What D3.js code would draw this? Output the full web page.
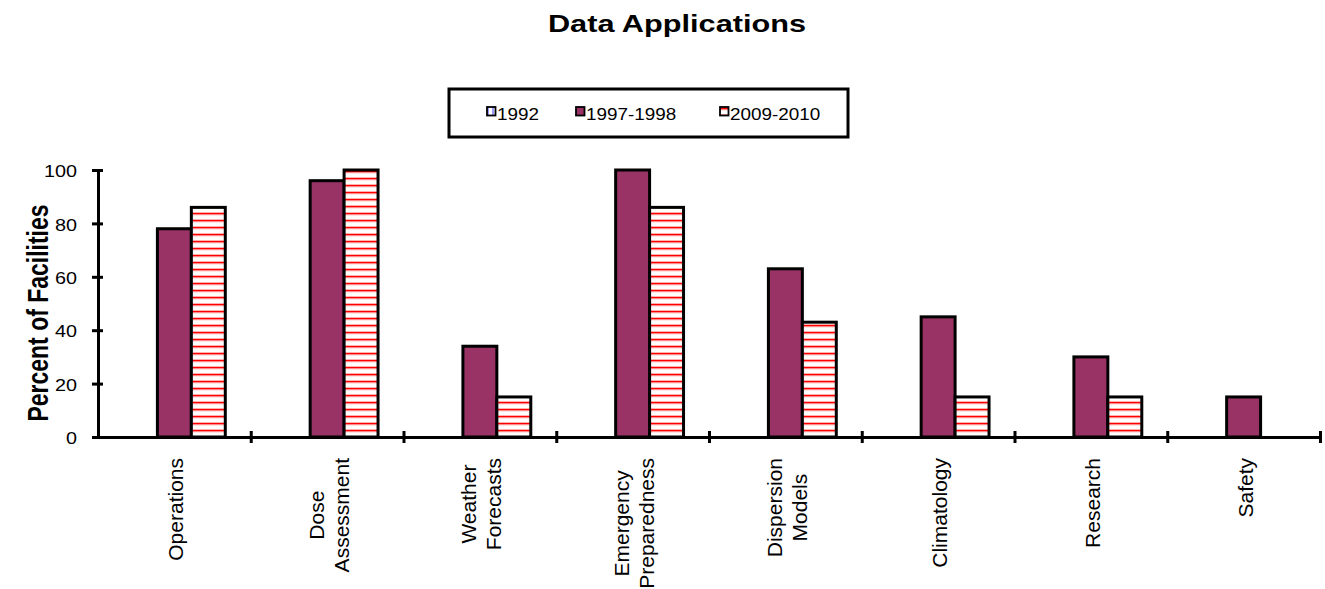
<!DOCTYPE html>
<html>
<head>
<meta charset="utf-8">
<script src="https://cdn.jsdelivr.net/npm/d3@7/dist/d3.min.js"></script>
<style>
  html, body { margin: 0; padding: 0; background: #fff; }
  svg { display: block; font-family: Arial, "Liberation Sans", sans-serif; }
</style>
</head>
<body>
<svg id="chart" width="1325" height="589"></svg>
<script>
// Survey categories (multi-line labels split on "\n")
const categories = [
  "Operations", "Dose\nAssessment", "Weather\nForecasts", "Emergency\nPreparedness",
  "Dispersion\nModels", "Climatology", "Research", "Safety"
];
const seriesNames = ["1992", "1997-1998", "2009-2010"];
const values1992 = [0, 0, 0, 0, 0, 0, 0, 0];
const values1997 = [78, 96, 34, 100, 63, 45, 30, 15];
const values2009 = [86, 100, 15, 86, 43, 15, 15, 0];
const yTicks = [0, 20, 40, 60, 80, 100];

const seriesValues = [values1992, values1997, values2009];

const svg = d3.select("#chart");
const plotLeft = 98, plotRight = 1320, plotTop = 170, plotBottom = 437;

// Fill patterns
const defs = svg.append("defs");
const pStripe = defs.append("pattern").attr("id", "hstripe")
  .attr("patternUnits", "userSpaceOnUse").attr("width", 8).attr("height", 7);
pStripe.append("rect").attr("width", 8).attr("height", 7).attr("fill", "#fff");
pStripe.append("rect").attr("y", 2).attr("width", 8).attr("height", 1).attr("fill", "#ffb0b0");
pStripe.append("rect").attr("y", 3).attr("width", 8).attr("height", 1.6).attr("fill", "#ff0000");
pStripe.append("rect").attr("y", 4.6).attr("width", 8).attr("height", 0.8).attr("fill", "#ffc0c0");

const pVert = defs.append("pattern").attr("id", "vstripe")
  .attr("patternUnits", "userSpaceOnUse").attr("width", 5).attr("height", 5);
pVert.append("rect").attr("width", 5).attr("height", 5).attr("fill", "#fff");
pVert.append("rect").attr("x", 2).attr("width", 2).attr("height", 5).attr("fill", "#9999ff");

const fills = ["url(#vstripe)", "#993366", "url(#hstripe)"];

// Scales
const x0 = d3.scaleBand().domain(d3.range(categories.length)).range([plotLeft, plotRight]).padding(0);
const bw = x0.bandwidth();
const x1 = d3.scaleBand().domain(d3.range(seriesNames.length)).range([bw / 6, bw * 5 / 6]).padding(0);
const y = d3.scaleLinear().domain([0, 100]).range([plotBottom, plotTop]);
const xEdge = d3.scaleLinear().domain([0, categories.length]).range([plotLeft, plotRight]);

// Title
svg.append("g").attr("transform", "translate(677,32) scale(1.28,1)")
  .append("text").attr("text-anchor", "middle")
  .attr("font-size", 24).attr("font-weight", "bold").attr("fill", "#000")
  .text("Data Applications");

// Y axis title
svg.append("g").attr("transform", "translate(48,313) rotate(-90) scale(1,1.25)")
  .append("text").attr("text-anchor", "middle")
  .attr("font-size", 23).attr("font-weight", "bold").attr("fill", "#000")
  .text("Percent of Facilities");

// Bars
const groups = svg.append("g").selectAll("g")
  .data(categories.map((c, i) => i))
  .join("g")
  .attr("transform", i => `translate(${x0(i)},0)`);

groups.selectAll("rect")
  .data(i => seriesValues.map((vals, s) => ({ s, v: vals[i] })).filter(d => d.v > 0))
  .join("rect")
  .attr("x", d => x1(d.s))
  .attr("width", x1.bandwidth())
  .attr("y", d => y(d.v))
  .attr("height", d => y(0) - y(d.v))
  .attr("fill", d => fills[d.s])
  .attr("stroke", "#000")
  .attr("stroke-width", 3);

// Y axis
const yAxis = svg.append("g").attr("transform", `translate(${plotLeft},0)`)
  .call(d3.axisLeft(y).tickValues(yTicks).tickSize(6).tickSizeOuter(0));
yAxis.select(".domain").attr("stroke", "#000").attr("stroke-width", 3);
yAxis.selectAll(".tick line").attr("x1", -6).attr("x2", 5).attr("stroke-width", 3);
yAxis.selectAll(".tick text")
  .attr("x", 0).attr("dy", "0.4em")
  .attr("transform", "translate(-21,0) scale(1.2,1)")
  .attr("font-size", 16.5).attr("fill", "#000")
  .attr("font-family", "Arial, 'Liberation Sans', sans-serif");

// X axis with ticks at category boundaries
const xAxis = svg.append("g").attr("transform", `translate(0,${plotBottom})`)
  .call(d3.axisBottom(xEdge).tickValues(d3.range(1, categories.length + 1))
    .tickFormat("").tickSize(6).tickSizeOuter(0));
xAxis.select(".domain").attr("stroke", "#000").attr("stroke-width", 3);
xAxis.selectAll(".tick line").attr("y1", -6).attr("y2", 6).attr("stroke-width", 3);

// Category labels, rotated, lines centered, block starting just below the axis
const labelTop = 458, lineGap = 25, labelSize = 21;
categories.forEach((c, i) => {
  const lines = c.split("\n");
  const cx = x0(i) + bw / 2 + 1.5;
  const g = svg.append("g");
  const texts = lines.map(line => g.append("text")
    .attr("font-size", labelSize).attr("fill", "#000")
    .attr("text-anchor", "middle").text(line));
  const maxLen = d3.max(texts, t => t.node().getComputedTextLength());
  const yc = labelTop + maxLen / 2;
  texts.forEach((t, k) => {
    const lineCenter = cx + (k - (lines.length - 1) / 2) * lineGap;
    t.attr("transform", `translate(${lineCenter + 7.5},${yc}) rotate(-90)`);
  });
});

// Legend
const legend = svg.append("g");
legend.append("rect").attr("x", 449).attr("y", 89).attr("width", 399).attr("height", 48)
  .attr("fill", "#fff").attr("stroke", "#000").attr("stroke-width", 3);
const legendX = [487, 576, 720];
seriesNames.forEach((name, s) => {
  legend.append("rect").attr("x", legendX[s]).attr("y", 107).attr("width", 8.5).attr("height", 8.5)
    .attr("fill", fills[s]).attr("stroke", "#000").attr("stroke-width", 1.8);
  legend.append("g").attr("transform", `translate(${legendX[s] + 10},120) scale(1.18,1)`)
    .append("text").attr("font-size", 16).attr("fill", "#000").text(name);
});
</script>
</body>
</html>
